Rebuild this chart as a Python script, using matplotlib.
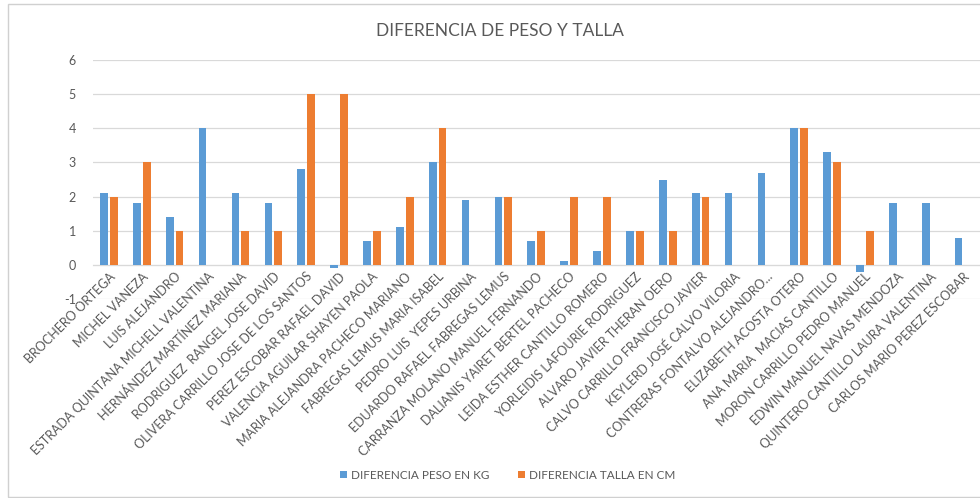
import numpy as np
import matplotlib.pyplot as plt
from matplotlib.patches import Rectangle

# data
nombres = [
    "BROCHERO ORTEGA", "MICHEL VANEZA", "LUIS ALEJANDRO",
    "ESTRADA QUINTANA MICHELL VALENTINA", "HERNÁNDEZ MARTÍNEZ MARIANA",
    "RODRIGUEZ  RANGEL JOSE DAVID", "OLIVERA CARRILLO JOSE DE LOS SANTOS",
    "PEREZ ESCOBAR RAFAEL DAVID", "VALENCIA AGUILAR SHAYEN PAOLA",
    "MARIA ALEJANDRA PACHECO MARIANO", "FABREGAS LEMUS MARIA ISABEL",
    "PEDRO LUIS  YEPES URBINA", "EDUARDO RAFAEL FABREGAS LEMUS",
    "CARRANZA MOLANO MANUEL FERNANDO", "DALIANIS YAIRET BERTEL PACHECO",
    "LEIDA ESTHER CANTILLO ROMERO", "YORLEIDIS LAFOURIE RODRIGUEZ",
    "ALVARO JAVIER THERAN OERO", "CALVO CARRILLO FRANCISCO JAVIER",
    "KEYLERD JOSÉ CALVO VILORIA", "CONTRERAS FONTALVO ALEJANDRO...",
    "ELIZABETH ACOSTA OTERO", "ANA MARIA  MACIAS CANTILLO",
    "MORON CARRILLO PEDRO MANUEL", "EDWIN MANUEL NAVAS MENDOZA",
    "QUINTERO CANTILLO LAURA VALENTINA", "CARLOS MARIO PEREZ ESCOBAR",
]
peso_kg = [2.1, 1.8, 1.4, 4.0, 2.1, 1.8, 2.8, -0.1, 0.7, 1.1, 3.0, 1.9, 2.0, 0.7,
           0.1, 0.4, 1.0, 2.5, 2.1, 2.1, 2.7, 4.0, 3.3, -0.2, 1.8, 1.8, 0.8]
talla_cm = [2, 3, 1, 0, 1, 1, 5, 5, 1, 2, 4, 0, 2, 1,
            2, 2, 1, 1, 2, 0, 0, 4, 3, 1, 0, 0, 0]

AZUL = "#5B9BD5"
NARANJA = "#ED7D31"
GRIS = "#595959"
GRID = "#D9D9D9"

plt.rcParams["font.family"] = ["Lato", "DejaVu Sans"]
plt.rcParams["axes.unicode_minus"] = False


def main():
    fig = plt.figure(figsize=(9.8, 4.98), dpi=100)
    ax = fig.add_axes([0.0944, 0.3996, 0.9056, 0.4799])

    x = np.arange(len(nombres))
    w = 0.235
    ax.bar(x - 0.15, peso_kg, w, color=AZUL, label="DIFERENCIA PESO EN KG", zorder=3)
    ax.bar(x + 0.15, talla_cm, w, color=NARANJA, label="DIFERENCIA TALLA EN CM", zorder=3)

    ax.set_xlim(-0.5, len(nombres) - 0.5)
    ax.set_ylim(-1, 6)
    ax.set_yticks(range(-1, 7))
    ax.yaxis.grid(True, color=GRID, linewidth=0.9, zorder=0)
    ax.tick_params(axis="y", length=0, pad=12, labelsize=9, labelcolor=GRIS)

    # category axis sits on the zero line, like Excel
    ax.spines["bottom"].set_position(("data", 0))
    ax.spines["bottom"].set_color(GRID)
    for s in ("top", "right", "left"):
        ax.spines[s].set_visible(False)
    ax.set_xticks(x)
    ax.set_xticklabels(nombres, rotation=45, ha="right", rotation_mode="anchor",
                       fontsize=9, color=GRIS)
    ax.tick_params(axis="x", length=0, pad=4)

    fig.text(0.51, 0.938, "DIFERENCIA DE PESO Y TALLA", ha="center", va="center",
             fontsize=12.5, color=GRIS)

    fig.legend(loc="center", bbox_to_anchor=(0.518, 0.046), ncol=2, frameon=False,
               fontsize=8.5, labelcolor=GRIS, handlelength=0.6, handleheight=0.6,
               handletextpad=0.3, columnspacing=2.5)

    # thin frame around the chart area
    fig.patches.append(Rectangle((8 / 980, 1 / 498), 1.2, 493 / 498,
                                 transform=fig.transFigure, fill=False,
                                 edgecolor="#D0D0D0", linewidth=1))

    fig.savefig("out.png", dpi=100)
    plt.close(fig)


if __name__ == "__main__":
    main()
